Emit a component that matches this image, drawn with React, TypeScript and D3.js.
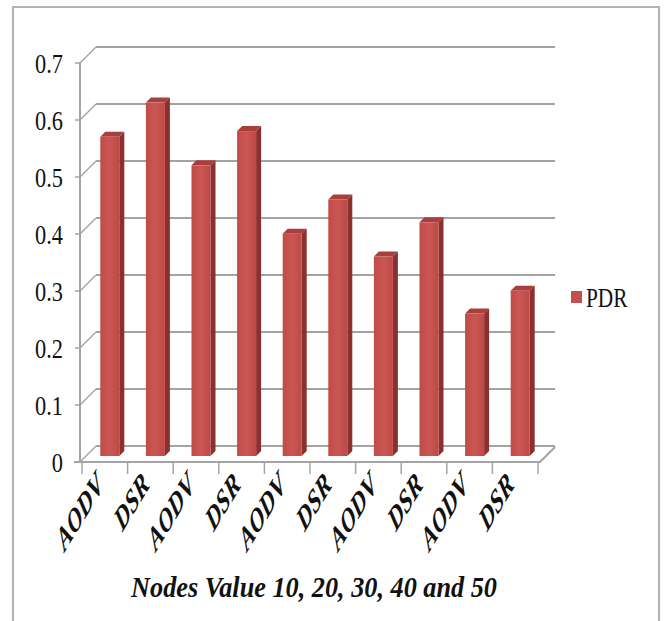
import React from "react";
import * as d3 from "d3";

const categories = ["AODV", "DSR", "AODV", "DSR", "AODV", "DSR", "AODV", "DSR", "AODV", "DSR"];
const pdrValues = [0.56, 0.62, 0.51, 0.57, 0.39, 0.45, 0.35, 0.41, 0.25, 0.29];
const yTicks = [0, 0.1, 0.2, 0.3, 0.4, 0.5, 0.6, 0.7];
const seriesName = "PDR";
const axisTitle = "Nodes Value 10, 20, 30, 40 and 50";

export default function App() {
  const W = 665, H = 621;
  const front = { x0: 80, x1: 540, y0: 462, y1: 63 };
  const depth = { dx: 16, dy: -16 };
  const barOff = { dx: 5, dy: -6 };
  const barDepth = 5;
  const barW = 19;

  const y = d3.scaleLinear().domain([0, 0.7]).range([front.y0, front.y1]);
  const x = d3.scaleBand<number>().domain(d3.range(categories.length)).range([82, 538]).padding(0);

  const grid = "#a3a3a3";
  const red = "#c4504d";
  const redSide = "#8a302e";
  const redTop = "#a83f3c";
  const serif = "'Liberation Serif', 'Times New Roman', serif";

  return (
    <svg width={W} height={H} style={{ position: "absolute", left: 0, top: 0, background: "#fff" }}>
      <defs>
        <linearGradient id="barFront" x1="0" x2="1" y1="0" y2="0">
          <stop offset="0" stopColor="#c04a47" />
          <stop offset="0.5" stopColor="#cb5754" />
          <stop offset="1" stopColor="#bd4946" />
        </linearGradient>
      </defs>
      {/* outer border */}
      <path d={`M13,${H} L13,7 L659,7 L659,${H}`} fill="none" stroke="#b3b3b3" strokeWidth={2} />

      {/* back wall gridlines + left diagonals */}
      {yTicks.map((t) => (
        <g key={t}>
          <line x1={front.x0 + depth.dx} x2={555} y1={y(t) + depth.dy} y2={y(t) + depth.dy} stroke={grid} strokeWidth={2} />
          <line x1={front.x0} x2={front.x0 + depth.dx} y1={y(t)} y2={y(t) + depth.dy} stroke={grid} strokeWidth={1.5} />
          <line x1={front.x0 - 5} x2={front.x0} y1={y(t)} y2={y(t)} stroke={grid} strokeWidth={1.5} />
          <text
            transform={`translate(63,${y(t)}) scale(0.86,1.08)`}
            dy="0.35em"
            textAnchor="end"
            fontFamily={serif}
            fontSize={26}
            fill="#111"
          >
            {t === 0 ? "0" : t.toFixed(1)}
          </text>
        </g>
      ))}
      {/* front axis line */}
      <line x1={front.x0} x2={front.x0} y1={front.y1} y2={front.y0} stroke={grid} strokeWidth={2} />
      {/* floor */}
      <path
        d={`M${front.x0 - 6},${front.y0} L${front.x1},${front.y0} L${front.x1 + 15},${front.y0 - 15}`}
        fill="none"
        stroke={grid}
        strokeWidth={2}
      />
      {/* x ticks */}
      {d3.range(categories.length + 1).map((i) => {
        const xx = i < categories.length ? x(i)! : x(categories.length - 1)! + x.bandwidth();
        return <line key={i} x1={xx} x2={xx} y1={front.y0} y2={front.y0 + 12} stroke={grid} strokeWidth={1.5} />;
      })}

      {/* bars */}
      {pdrValues.map((v, i) => {
        const cx = x(i)! + x.bandwidth() / 2 + barOff.dx;
        const left = cx - barW / 2;
        const right = cx + barW / 2;
        const base = y(0) + barOff.dy;
        const top = y(v) + barOff.dy;
        return (
          <g key={i}>
            <path
              d={`M${right},${top} L${right + barDepth},${top - barDepth} L${right + barDepth},${base - barDepth} L${right},${base} Z`}
              fill={redSide}
            />
            <path
              d={`M${left},${top} L${left + barDepth},${top - barDepth} L${right + barDepth},${top - barDepth} L${right},${top} Z`}
              fill={redTop}
            />
            <rect x={left} y={top} width={barW} height={base - top} fill="url(#barFront)" />
          </g>
        );
      })}

      {/* x labels */}
      {categories.map((c, i) => {
        const cx = x(i)! + x.bandwidth() / 2;
        return (
          <text
            key={i}
            transform={`translate(${cx},${486}) scale(0.76,1.25) rotate(-45)`}
            textAnchor="end"
            fontFamily={serif}
            fontStyle="italic"
            fontWeight="bold"
            fontSize={27}
            fill="#111"
          >
            {c}
          </text>
        );
      })}

      {/* axis title */}
      <text
        transform={`translate(314,597) scale(1.05,1.2)`}
        textAnchor="middle"
        fontFamily={serif}
        fontStyle="italic"
        fontWeight="bold"
        fontSize={25}
        fill="#111"
      >
        {axisTitle}
      </text>

      {/* legend */}
      <rect x={571} y={291} width={11} height={12} fill={red} />
      <text transform="translate(586,307) scale(0.82,1.08)" fontFamily={serif} fontSize={26} fill="#111">
        {seriesName}
      </text>
    </svg>
  );
}
